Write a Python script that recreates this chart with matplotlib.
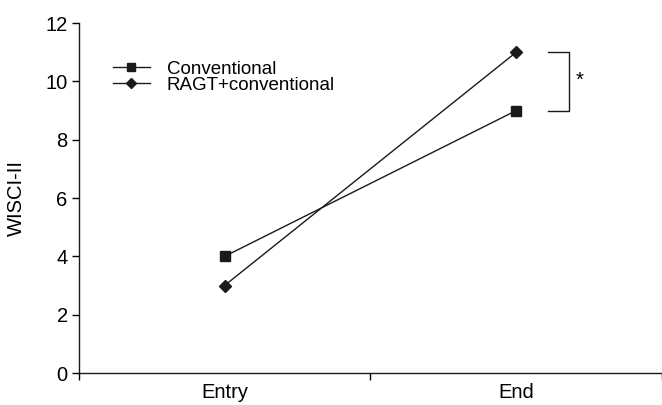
import matplotlib.pyplot as plt

plt.rcParams['font.family'] = ['Liberation Sans', 'DejaVu Sans']

# data
timepoints = ['Entry', 'End']
conventional = [4, 9]
ragt = [3, 11]

x_pos = [1, 3]

fs = 14.5

fig = plt.figure(figsize=(6.62, 4.05), dpi=100)
ax = fig.add_axes([0.119, 0.079, 0.881, 0.864])

ax.plot(x_pos, conventional, color='#1a1a1a', lw=1, marker='s', ms=6.5,
        label='Conventional')
ax.plot(x_pos, ragt, color='#1a1a1a', lw=1, marker='D', ms=6.5,
        label='RAGT+conventional')

ax.set_xlim(0, 4)
ax.set_ylim(0, 12)
ax.set_yticks(range(0, 13, 2))
ax.set_xticks([0, 2, 4])
ax.set_xticklabels([])
ax.set_xticks(x_pos, minor=True)
ax.set_xticklabels(timepoints, minor=True)
ax.tick_params(axis='x', which='minor', length=0, pad=7, labelsize=fs)
ax.tick_params(axis='x', which='major', length=5, direction='out', width=1)
ax.tick_params(axis='y', length=5, direction='out', width=1, labelsize=fs, pad=3)

for s in ['top', 'right']:
    ax.spines[s].set_visible(False)
for s in ['left', 'bottom']:
    ax.spines[s].set_linewidth(1)
    ax.spines[s].set_color('#1a1a1a')

ax.set_ylabel('WISCI-II', fontsize=fs, labelpad=14)

# significance bracket between end values
bx0, bx1 = 3.22, 3.36
ax.plot([bx0, bx1, bx1, bx0], [ragt[1], ragt[1], conventional[1], conventional[1]],
        color='#1a1a1a', lw=1)
ax.text(bx1 + 0.05, (ragt[1] + conventional[1]) / 2 + 0.05, '*', fontsize=fs,
        ha='left', va='center')

leg = ax.legend(loc='upper left', bbox_to_anchor=(0.045, 0.914), frameon=False,
                fontsize=13.5, handlelength=2.0, handletextpad=0.9,
                labelspacing=-0.05, borderaxespad=0, markerscale=0.8)

fig.savefig('out.png', dpi=100)
